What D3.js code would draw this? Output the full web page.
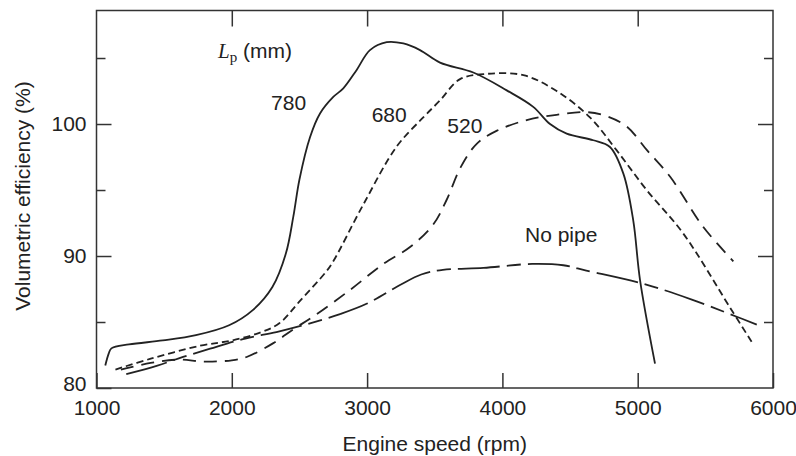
<!DOCTYPE html>
<html>
<head>
<meta charset="utf-8">
<script src="https://cdn.jsdelivr.net/npm/d3@7"></script>
<style>
  body { margin: 0; background: #fff; }
  svg text { font-family: "Liberation Sans", Arial, Helvetica, sans-serif; fill: #222; }
</style>
</head>
<body>
<svg id="chart" width="796" height="456"></svg>
<script>
// tick values
const xTicks = [1000, 2000, 3000, 4000, 5000, 6000];
const yMajor = [80, 90, 100];
const yMinor = [85, 95, 105];

// Lp = 780 mm (solid)
const rpm780 = [1065, 1090, 1110, 1240, 1490, 1735, 1980, 2155, 2300, 2400, 2455, 2500, 2578, 2652, 2750, 2824, 2923, 3021, 3145, 3268, 3391, 3539, 3785, 4032, 4228, 4352, 4475, 4672, 4795, 4894, 4967, 5017, 5128];
const eff780 = [81.7, 82.6, 83.0, 83.3, 83.6, 84.0, 84.75, 85.9, 87.65, 90.2, 93.0, 95.8, 99.0, 100.8, 102.05, 102.7, 104.1, 105.6, 106.2, 106.1, 105.6, 104.65, 103.9, 102.55, 101.3, 100.0, 99.27, 98.77, 98.26, 96.24, 92.7, 88.2, 81.85];

// Lp = 680 mm (short dash)
const rpm680 = [1140, 1395, 1765, 2000, 2209, 2351, 2504, 2696, 2750, 2972, 3219, 3415, 3540, 3687, 3884, 4155, 4401, 4647, 4845, 5066, 5337, 5682, 5842];
const eff680 = [81.4, 82.2, 83.2, 83.6, 84.2, 84.9, 86.6, 88.8, 89.6, 93.9, 98.3, 100.5, 101.8, 103.4, 103.8, 103.7, 102.5, 100.5, 98.0, 95.0, 91.7, 86.1, 83.5];

// Lp = 520 mm (long dash)
const rpm520 = [1180, 1400, 1600, 1800, 2000, 2110, 2307, 2455, 2600, 2870, 3120, 3320, 3490, 3590, 3690, 3810, 3960, 4180, 4400, 4620, 4770, 4920, 5070, 5240, 5485, 5707];
const eff520 = [81.4, 81.9, 82.15, 82.0, 82.1, 82.35, 83.4, 84.45, 85.4, 87.4, 89.4, 90.7, 92.4, 94.3, 96.7, 98.5, 99.5, 100.3, 100.7, 100.9, 100.6, 99.8, 98.0, 96.0, 92.2, 89.6];

// no pipe
const rpmNoPipe = [1220, 1450, 1640, 1840, 2100, 2330, 2578, 2800, 3000, 3243, 3400, 3560, 3860, 4220, 4450, 4620, 5040, 5400, 5732, 5880];
const effNoPipe = [81.05, 81.7, 82.35, 82.98, 83.75, 84.24, 84.9, 85.6, 86.4, 87.8, 88.6, 88.95, 89.1, 89.4, 89.3, 88.9, 87.9, 86.7, 85.4, 84.8];

const svg = d3.select("#chart");

const x = d3.scaleLinear().domain([1000, 6000]).range([96.5, 773]);
const y = d3.scaleLinear().domain([80, 108.6]).range([388, 10.5]);

// frame
svg.append("rect")
    .attr("x", x(1000)).attr("y", y(108.6))
    .attr("width", x(6000) - x(1000)).attr("height", y(80) - y(108.6))
    .attr("fill", "none").attr("stroke", "#333").attr("stroke-width", 1.5);

function styleAxis(g) {
    g.select(".domain").remove();
    g.selectAll(".tick line").attr("stroke", "#333").attr("stroke-width", 1.5);
    g.selectAll(".tick text").attr("font-size", 21).attr("fill", "#222")
        .attr("font-family", "'Liberation Sans', Arial, sans-serif");
}

// bottom axis
svg.append("g")
    .attr("transform", `translate(0,${y(80)})`)
    .call(d3.axisBottom(x).tickValues(xTicks).tickSizeInner(-15).tickSizeOuter(0).tickPadding(12).tickFormat(d3.format("d")))
    .call(styleAxis);

// top axis
svg.append("g")
    .attr("transform", `translate(0,${y(108.6)})`)
    .call(d3.axisTop(x).tickValues(xTicks.slice(1, -1)).tickSizeInner(-16).tickSizeOuter(0).tickFormat(""))
    .call(styleAxis);

// left axis
const left = svg.append("g")
    .attr("transform", `translate(${x(1000)},0)`)
    .call(d3.axisLeft(y).tickValues(yMajor).tickSizeInner(-15).tickSizeOuter(0).tickPadding(10))
    .call(styleAxis);
left.selectAll(".tick text").filter(d => d === 80).attr("dy", "0.1em");

svg.append("g")
    .attr("transform", `translate(${x(1000)},0)`)
    .call(d3.axisLeft(y).tickValues(yMinor).tickSizeInner(-9).tickSizeOuter(0).tickFormat(""))
    .call(styleAxis);

// right axis
svg.append("g")
    .attr("transform", `translate(${x(6000)},0)`)
    .call(d3.axisRight(y).tickValues([90, 100]).tickSizeInner(-15).tickSizeOuter(0).tickFormat(""))
    .call(styleAxis);
svg.append("g")
    .attr("transform", `translate(${x(6000)},0)`)
    .call(d3.axisRight(y).tickValues(yMinor).tickSizeInner(-9).tickSizeOuter(0).tickFormat(""))
    .call(styleAxis);

// curves
const line = d3.line()
    .x(d => x(d[0]))
    .y(d => y(d[1]))
    .curve(d3.curveCatmullRom.alpha(0.5));

const series = [
    { rpm: rpm780, eff: eff780, dash: null },
    { rpm: rpm680, eff: eff680, dash: "7,4" },
    { rpm: rpm520, eff: eff520, dash: "13,8" },
    { rpm: rpmNoPipe, eff: effNoPipe, dash: "42,7,14,7" }
];

svg.selectAll("path.curve")
    .data(series)
    .enter()
    .append("path")
    .attr("class", "curve")
    .attr("d", s => line(s.rpm.map((r, i) => [r, s.eff[i]])))
    .attr("fill", "none")
    .attr("stroke", "#222")
    .attr("stroke-width", 1.8)
    .attr("stroke-dasharray", s => s.dash);

// curve labels
const labels = [
    { text: "780", rpm: 2290, v: 101.06 },
    { text: "680", rpm: 3034, v: 100.17 },
    { text: "520", rpm: 3593, v: 99.3 },
    { text: "No pipe", rpm: 4167, v: 91.06 }
];
svg.selectAll("text.lbl")
    .data(labels)
    .enter()
    .append("text")
    .attr("class", "lbl")
    .attr("x", d => x(d.rpm))
    .attr("y", d => y(d.v))
    .attr("font-size", 21)
    .text(d => d.text);

// Lp (mm)
const lp = svg.append("text")
    .attr("x", x(1898))
    .attr("y", y(104.98))
    .attr("font-size", 21);
lp.append("tspan")
    .attr("font-family", "'Liberation Serif', 'Times New Roman', serif")
    .attr("font-style", "italic")
    .text("L");
lp.append("tspan")
    .attr("font-family", "'Liberation Serif', 'Times New Roman', serif")
    .attr("font-size", 15)
    .attr("dy", 4)
    .text("p");
lp.append("tspan")
    .attr("dy", -4)
    .text(" (mm)");

// axis titles
svg.append("text")
    .attr("x", (x(1000) + x(6000)) / 2)
    .attr("y", 451)
    .attr("text-anchor", "middle")
    .attr("font-size", 21)
    .text("Engine speed (rpm)");

svg.append("text")
    .attr("transform", "translate(30,196) rotate(-90)")
    .attr("text-anchor", "middle")
    .attr("font-size", 21)
    .text("Volumetric efficiency (%)");
</script>
</body>
</html>
